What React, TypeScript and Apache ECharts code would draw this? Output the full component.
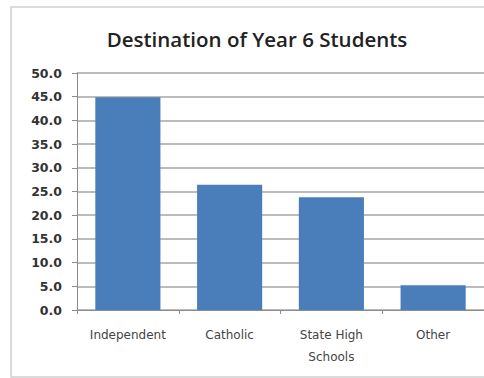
import React, { useEffect, useRef } from "react";
import * as echarts from "echarts";

const categories = ["Independent", "Catholic", "State High\nSchools", "Other"];
const values = [44.9, 26.4, 23.8, 5.2];
const titleText = "Destination of Year 6 Students";

export default function App() {
  const ref = useRef<HTMLDivElement>(null);
  useEffect(() => {
    document.body.style.margin = "0";
    document.body.style.overflow = "hidden";
    document.documentElement.style.overflow = "hidden";
    const chart = echarts.init(ref.current!, null, { renderer: "svg" });
    chart.setOption({
      animation: false,
      backgroundColor: "#ffffff",
      title: {
        text: titleText,
        left: 252,
        textAlign: "center",
        top: 23,
        textStyle: { fontFamily: "Open Sans", fontSize: 20.5, fontWeight: 600, color: "#222" },
      },
      graphic: [
        {
          type: "polyline",
          shape: { points: [[484, 7], [11, 7], [11, 377], [484, 377]] },
          style: { fill: "none", stroke: "#cfcfcf", lineWidth: 1.5 },
          silent: true,
        },
      ],
      grid: { left: 77, top: 73, width: 408, height: 237 },
      xAxis: {
        type: "category",
        data: categories,
        axisLine: { lineStyle: { color: "#8c8c8c" } },
        axisTick: { show: true, length: 4, lineStyle: { color: "#8c8c8c" } },
        axisLabel: {
          fontFamily: "DejaVu Sans",
          fontSize: 12,
          color: "#444",
          margin: 14,
          lineHeight: 22,
        },
      },
      yAxis: {
        type: "value",
        min: 0,
        max: 50,
        interval: 5,
        axisLine: { show: true, lineStyle: { color: "#8c8c8c" } },
        axisTick: { show: true, length: 5, lineStyle: { color: "#8c8c8c" } },
        splitLine: { lineStyle: { color: "#a6a6a6", width: 1.5 } },
        axisLabel: {
          fontFamily: "DejaVu Sans",
          fontSize: 12.5,
          fontWeight: "bold",
          color: "#333",
          margin: 15,
          formatter: (v: number) => v.toFixed(1),
        },
      },
      series: [
        {
          type: "bar",
          data: values,
          barWidth: "64%",
          itemStyle: { color: "#4a7ebb" },
        },
      ],
    });
    return () => chart.dispose();
  }, []);
  return (
    <div
      ref={ref}
      style={{ position: "absolute", left: 0, top: 0, width: 484, height: 378 }}
    />
  );
}
